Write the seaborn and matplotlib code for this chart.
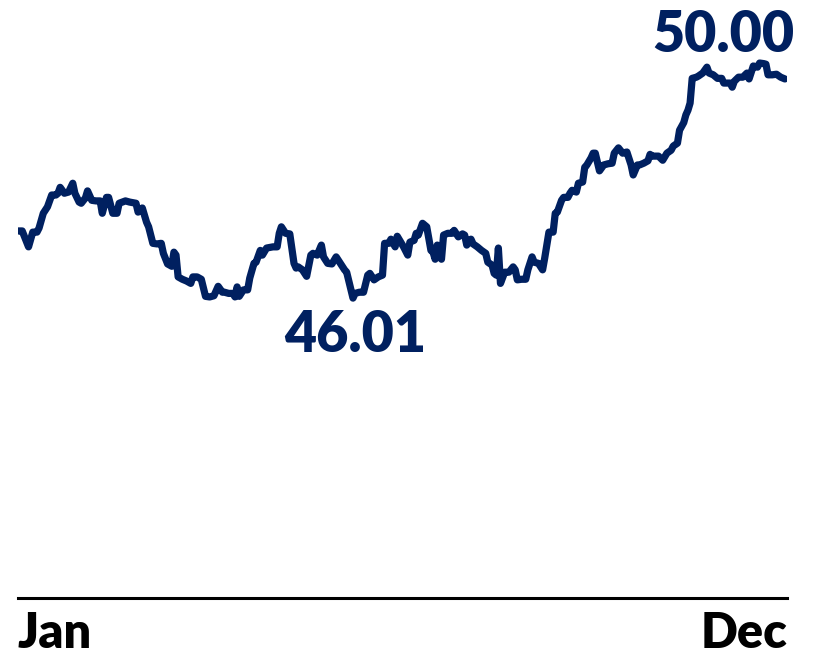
import matplotlib
matplotlib.use("Agg")
import matplotlib.pyplot as plt
import seaborn as sns
import pandas as pd

# Day of year for each observation
days = [
    1, 3, 6, 8, 10, 11, 13, 15, 17, 19, 20, 21, 22, 23, 25, 27, 28, 30, 31, 33,
    34, 36, 38, 40, 41, 43, 44, 46, 48, 49, 52, 54, 57, 58, 60, 62, 63, 65, 67, 69,
    70, 72, 74, 75, 76, 77, 79, 81, 83, 84, 86, 88, 90, 92, 94, 96, 98, 99, 101, 103,
    104, 105, 106, 108, 110, 111, 113, 114, 116, 117, 119, 122, 124, 125, 126, 128, 130, 132, 133, 134,
    136, 138, 140, 141, 143, 145, 146, 148, 150, 152, 154, 156, 157, 160, 161, 163, 165, 167, 168, 170,
    172, 174, 175, 177, 178, 180, 181, 184, 186, 187, 189, 190, 191, 193, 195, 197, 198, 199, 200, 202,
    203, 205, 207, 208, 210, 212, 213, 214, 216, 217, 219, 221, 223, 224, 226, 227, 228, 229, 230, 232,
    234, 236, 237, 238, 240, 242, 243, 245, 246, 248, 250, 251, 253, 255, 256, 257, 259, 260, 262, 263,
    264, 266, 267, 269, 270, 271, 273, 274, 275, 277, 279, 281, 283, 284, 286, 288, 290, 292, 293, 295,
    296, 298, 300, 301, 302, 305, 307, 309, 311, 312, 314, 315, 317, 318, 319, 320, 321, 323, 324, 326,
    327, 328, 329, 331, 333, 335, 336, 338, 339, 340, 341, 343, 345, 347, 348, 350, 352, 353, 355, 356,
    357, 359, 361, 363, 365,
]

# Closing price on each of those days
price = [
    47.15, 47.15, 46.88, 47.13, 47.13, 47.20, 47.45, 47.56, 47.76, 47.76, 47.79, 47.89, 47.84, 47.79, 47.81, 47.96, 47.79, 47.64, 47.62, 47.71,
    47.83, 47.67, 47.66, 47.66, 47.45, 47.72, 47.72, 47.45, 47.45, 47.62, 47.66, 47.64, 47.62, 47.47, 47.54, 47.30, 47.22, 46.94, 46.93, 46.94,
    46.77, 46.59, 46.55, 46.79, 46.74, 46.37, 46.33, 46.30, 46.26, 46.37, 46.37, 46.33, 46.04, 46.03, 46.05, 46.21, 46.11, 46.11, 46.09, 46.09,
    46.03, 46.20, 46.04, 46.15, 46.15, 46.35, 46.60, 46.62, 46.82, 46.74, 46.86, 46.88, 46.88, 47.11, 47.22, 47.11, 47.10, 46.60, 46.52, 46.54,
    46.49, 46.38, 46.74, 46.77, 46.74, 46.91, 46.71, 46.60, 46.59, 46.71, 46.60, 46.49, 46.45, 46.01, 46.09, 46.11, 46.11, 46.40, 46.43, 46.32,
    46.37, 46.40, 46.94, 46.94, 47.01, 46.88, 47.06, 46.88, 46.74, 46.96, 46.99, 47.11, 47.08, 47.28, 47.22, 46.82, 46.79, 46.67, 46.91, 46.67,
    47.08, 47.11, 47.11, 47.16, 47.05, 47.10, 47.08, 46.91, 47.01, 46.93, 46.88, 46.82, 46.77, 46.62, 46.57, 46.43, 46.40, 46.86, 46.26, 46.45,
    46.45, 46.54, 46.49, 46.32, 46.33, 46.33, 46.49, 46.71, 46.62, 46.60, 46.49, 46.69, 47.13, 47.13, 47.45, 47.47, 47.67, 47.72, 47.72, 47.79,
    47.84, 47.81, 47.96, 47.98, 48.23, 48.27, 48.39, 48.47, 48.47, 48.17, 48.27, 48.29, 48.30, 48.47, 48.56, 48.47, 48.49, 48.27, 48.10, 48.27,
    48.27, 48.30, 48.34, 48.45, 48.42, 48.42, 48.35, 48.47, 48.52, 48.59, 48.64, 48.86, 48.99, 49.12, 49.20, 49.32, 49.74, 49.76, 49.78, 49.83,
    49.88, 49.93, 49.83, 49.80, 49.74, 49.74, 49.66, 49.66, 49.66, 49.59, 49.69, 49.76, 49.76, 49.83, 49.73, 49.95, 49.93, 50.00, 49.99, 49.98,
    49.80, 49.80, 49.81, 49.76, 49.73,
]

tick_days = [1, 366]
tick_labels = ["Jan", "Dec"]

NAVY = "#002060"

df = pd.DataFrame({"day": days, "price": price})

sns.set_theme(style="white")
plt.rcParams["font.family"] = ["Lato", "DejaVu Sans"]

fig = plt.figure(figsize=(8.13, 6.55), dpi=100)
ax = fig.add_axes([18 / 813, 1 - 598 / 655, 769 / 813, 598 / 655])

sns.lineplot(data=df, x="day", y="price", ax=ax, color=NAVY, linewidth=5.2,
             solid_joinstyle="round", solid_capstyle="round")

ax.set_xlim(tick_days[0], tick_days[-1])
ax.set_ylim(40.92, 51.07)

# Only the baseline remains
for side in ("left", "right", "top"):
    ax.spines[side].set_visible(False)
ax.spines["bottom"].set_color("black")
ax.spines["bottom"].set_linewidth(2.2)
ax.set_yticks([])
ax.set_xlabel("")
ax.set_ylabel("")

ax.set_xticks(tick_days)
ax.set_xticklabels(tick_labels, fontsize=35, fontweight="heavy", color="black")
ax.tick_params(axis="x", length=0, pad=36)
for lab, ha in zip(ax.get_xticklabels(), ("left", "right")):
    lab.set_ha(ha)
    lab.set_va("baseline")

# Low and high markers
i_min = price.index(min(price))
i_max = price.index(max(price))
ax.annotate(f"{price[i_min]:.2f}", xy=(days[i_min], price[i_min]),
            xytext=(2, -54), textcoords="offset pixels", ha="center", va="baseline",
            fontsize=40, fontweight="heavy", color=NAVY, annotation_clip=False)
ax.annotate(f"{price[i_max]:.2f}", xy=(days[i_max], price[i_max]),
            xytext=(-36, 11), textcoords="offset pixels", ha="center", va="baseline",
            fontsize=40, fontweight="heavy", color=NAVY, annotation_clip=False)

fig.savefig("out.png", dpi=100)
